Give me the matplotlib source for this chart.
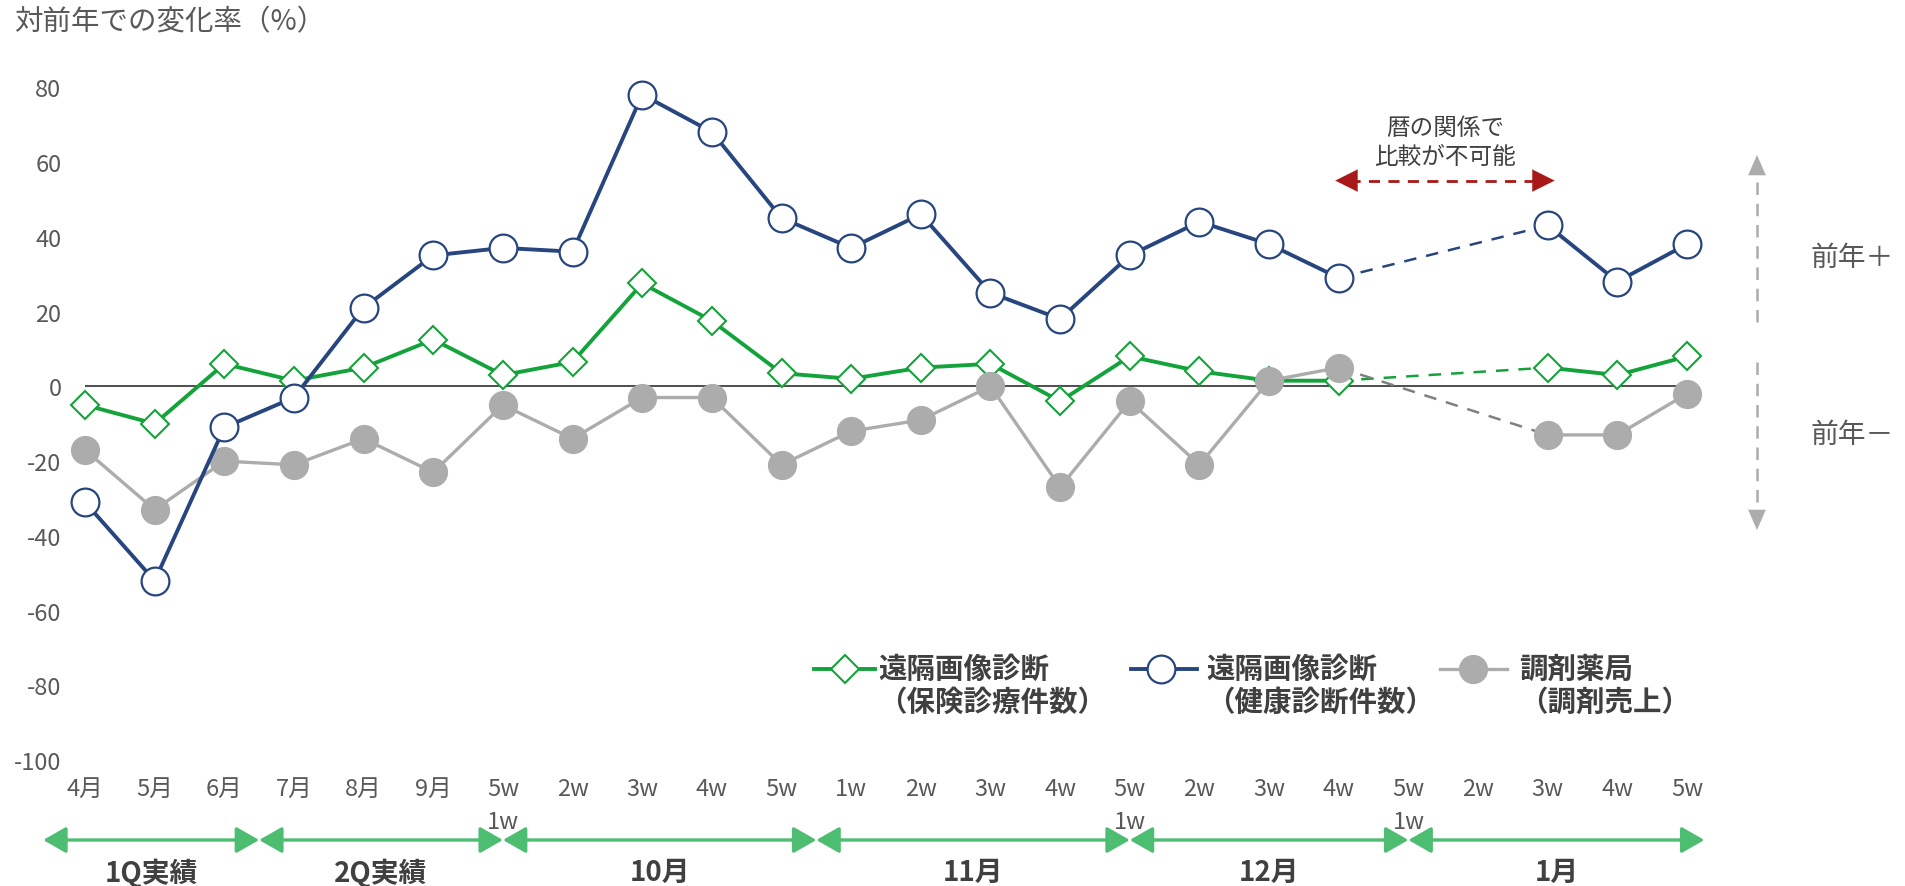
import numpy as np
import matplotlib
matplotlib.use('Agg')
import matplotlib.pyplot as plt
from matplotlib.lines import Line2D
from matplotlib.transforms import blended_transform_factory
from matplotlib.patches import ArrowStyle, FancyArrowPatch

plt.rcParams['font.family'] = ['Noto Sans CJK JP', 'DejaVu Sans']

# ---------------- data ----------------
categories = ['4月', '5月', '6月', '7月', '8月', '9月',
              '5w', '2w', '3w', '4w', '5w',
              '1w', '2w', '3w', '4w', '5w',
              '2w', '3w', '4w', '5w',
              '2w', '3w', '4w', '5w']
week1_index = [6, 15, 19]
week1_labels = ['1w', '1w', '1w']

nan = np.nan
insurance = [-5, -10, 6, 1.5, 5, 12.5, 3, 6.5, 27.5, 17.5, 3.5, 2, 5, 6, -4, 8, 4, 1.5, 1.5, nan, nan, 5, 3, 8]
checkup = [-31, -52, -11, -3, 21, 35, 37, 36, 78, 68, 45, 37, 46, 25, 18, 35, 44, 38, 29, nan, nan, 43, 28, 38]
pharmacy = [-17, -33, -20, -21, -14, -23, -5, -14, -3, -3, -21, -12, -9, 0, -27, -4, -21, 1.5, 5, nan, nan, -13, -13, -2]

series_names = ['遠隔画像診断\n（保険診療件数）', '遠隔画像診断\n（健康診断件数）', '調剤薬局\n（調剤売上）']
period_labels = ['1Q実績', '2Q実績', '10月', '11月', '12月', '1月']

y_ticks = [-100, -80, -60, -40, -20, 0, 20, 40, 60, 80]
title = '対前年での変化率（%）'
note = '暦の関係で\n比較が不可能'
plus_label = '前年＋'
minus_label = '前年－'

# ---------------- layout ----------------
W, H = 1906, 887
def fx(p):
    return p / W
def fy(p):
    return 1 - p / H

GREEN = '#14a33a'
NAVY = '#27457f'
GRAY = '#acacac'
GRAY_DASH = '#808080'
ARROW_GREEN = '#4dbd72'
RED = '#a81818'
TXT = '#595959'
DARK = '#404040'

fig = plt.figure(figsize=(W / 100, H / 100), dpi=100)
ax = fig.add_axes([fx(85), fy(761.3), fx(1687) - fx(85), fy(88.1) - fy(761.3)])
x = np.arange(len(categories))
ax.set_xlim(0, len(categories) - 1)
ax.set_ylim(min(y_ticks), max(y_ticks))
for s in ax.spines.values():
    s.set_visible(False)
ax.set_facecolor('none')

ax.hlines(0, 0, len(categories) - 1, color=DARK, lw=1.3, zorder=1)

styles = [
    dict(color=GREEN, lw=2.8, marker='D', ms=14, mfc='white', mec=GREEN, mew=1.5, zorder=3),
    dict(color=NAVY, lw=2.8, marker='o', ms=20, mfc='white', mec=NAVY, mew=1.6, zorder=5),
    dict(color=GRAY, lw=2.4, marker='o', ms=20, mfc=GRAY, mec=GRAY, mew=1.0, zorder=4),
]
dash_colors = [GREEN, NAVY, GRAY_DASH]
for vals, st, dc in zip([insurance, checkup, pharmacy], styles, dash_colors):
    arr = np.array(vals, dtype=float)
    ax.plot(x, arr, clip_on=False, **st)
    gap = np.where(np.isnan(arr))[0]
    a, b = gap.min() - 1, gap.max() + 1
    ax.plot([x[a], x[b]], [arr[a], arr[b]], color=dc, lw=1.8, dashes=(5, 4),
            zorder=st['zorder'] - 0.5, clip_on=False)

ax.set_xticks(x)
ax.set_xticklabels(categories)
ax.set_yticks(y_ticks)
ax.set_yticklabels([str(v) for v in y_ticks])
ax.tick_params(axis='x', length=0, pad=12, labelsize=17, labelcolor=TXT)
ax.tick_params(axis='y', length=0, pad=17, labelsize=17, labelcolor=TXT)

bt = blended_transform_factory(ax.transData, fig.transFigure)
for i, lab in zip(week1_index, week1_labels):
    ax.text(x[i], fy(823), lab, transform=bt, ha='center', va='center', fontsize=17, color=TXT)

# period arrows
period_bounds = [-0.6, 2.5, 6, 10.5, 15, 19, 23.25]
arrow_style = ArrowStyle('<|-|>', head_length=0.7, head_width=0.4)
for k, lab in enumerate(period_labels):
    x0, x1 = period_bounds[k], period_bounds[k + 1]
    ax.annotate('', xy=(x1, fy(841)), xytext=(x0, fy(841)), xycoords=bt, textcoords=bt,
                annotation_clip=False,
                arrowprops=dict(arrowstyle=arrow_style, color=ARROW_GREEN, lw=2.4,
                                shrinkA=0, shrinkB=0, mutation_scale=20))
    ax.text((x0 + x1) / 2, fy(873), lab, transform=bt, ha='center', va='center',
            fontsize=20, fontweight='bold', color=DARK)

# title
fig.text(fx(14), fy(22), title, ha='left', va='center', fontsize=20.5, color=TXT)

# legend (manual)
leg_handles = [(814, 875, 845, 878), (1131, 1197, 1161, 1206), (1440, 1507, 1473, 1519)]
for (h0, h1, hm, tx), st, name in zip(leg_handles, styles, series_names):
    fig.add_artist(Line2D([fx(h0), fx(h1)], [fy(670)] * 2, color=st['color'], lw=st['lw']))
    fig.add_artist(Line2D([fx(hm)], [fy(670)], marker=st['marker'], ms=st['ms'], mfc=st['mfc'],
                          mec=st['mec'], mew=st['mew'], lw=0))
    l1, l2 = name.split('\n')
    fig.text(fx(tx), fy(670), l1, ha='left', va='center', fontsize=20.5, fontweight='bold', color=DARK)
    fig.text(fx(tx), fy(703), l2, ha='left', va='center', fontsize=20.5, fontweight='bold', color=DARK)

# red "not comparable" arrow
ry = 55
rx0, rx1 = 17.95, 21.1
ax.plot([rx0 + 0.2, rx1 - 0.2], [ry, ry], color=RED, lw=2.0, dashes=(4, 3), clip_on=False)
for xa, xb in [(rx0 + 0.25, rx0), (rx1 - 0.25, rx1)]:
    ax.annotate('', xy=(xb, ry), xytext=(xa, ry), annotation_clip=False,
                arrowprops=dict(arrowstyle=ArrowStyle('-|>', head_length=0.8, head_width=0.4),
                                color=RED, lw=0.1, shrinkA=0, shrinkB=0, mutation_scale=20))
ax.text((rx0 + rx1) / 2, 65.3, note, ha='center', va='center', fontsize=17, color=DARK,
        linespacing=1.3)

# vertical gray arrows
vx = fx(1757)
for ya, yb in [(323, 156), (363, 531)]:
    sign = -1 if yb < ya else 1
    fig.add_artist(Line2D([vx, vx], [fy(ya), fy(yb - sign * 12)], color=GRAY, lw=1.8, dashes=(5, 3.5)))
    fig.add_artist(FancyArrowPatch(
        (vx, fy(yb - sign * 14)), (vx, fy(yb)), transform=fig.transFigure,
        arrowstyle=ArrowStyle('-|>', head_length=0.8, head_width=0.35), mutation_scale=18,
        color=GRAY, lw=0.1, shrinkA=0, shrinkB=0))
fig.text(fx(1811), fy(258), plus_label, ha='left', va='center', fontsize=20, color=TXT)
fig.text(fx(1811), fy(435), minus_label, ha='left', va='center', fontsize=20, color=TXT)

fig.savefig('out.png', dpi=100)
